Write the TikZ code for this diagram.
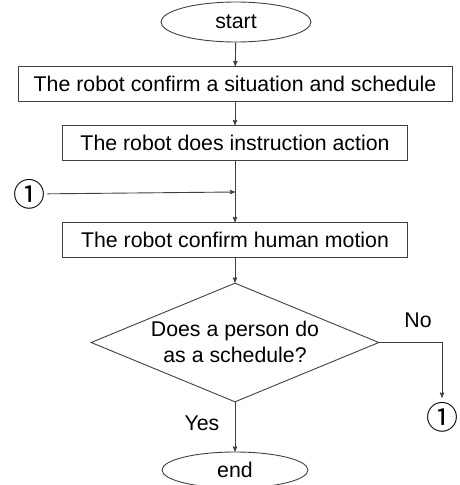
\documentclass[tikz,border=0pt]{standalone}
\usepackage{fontspec}
\setmainfont{Liberation Sans}
\newfontfamily\symfont{Noto Sans CJK JP}
\usetikzlibrary{arrows,shapes.geometric}

\begin{document}
\begin{tikzpicture}[x=1pt,y=-1pt,->,>=stealth',thick,
			line/.style={draw=black!75,line width=0.9pt},
			every node/.style={font=\fontsize{21.3}{26}\selectfont},
			term node/.style={ellipse,draw=black!75,line width=0.9pt,inner sep=0pt,minimum width=150pt,minimum height=40pt},
			work node/.style={rectangle,draw=black!75,line width=0.9pt,inner sep=0pt,minimum height=35pt},
			check node/.style={diamond,draw=black!75,line width=0.9pt,inner sep=0pt,minimum width=288pt,minimum height=119pt},
			mark node/.style={inner sep=0pt,font=\symfont\fontsize{32}{32}\selectfont}]
			\useasboundingbox (0,0) rectangle (460,485);
			\node[term node] (start) at (236,22) {start};
			\node[work node,minimum width=434pt] (sit) at (235,84) {The robot confirm a situation and schedule};
			\node[work node,minimum width=345pt] (act) at (235,143) {The robot does instruction action};
			\node[work node,minimum width=345pt] (hum) at (235,240) {The robot confirm human motion};
			\node[check node] (ask) at (235,342.5) {};
			\node[align=center] (asktxt) at (235,342) {Does a person do\\as a schedule?};
			\node[term node,minimum width=146pt,minimum height=36pt] (end) at (235,470) {end};
			\node[mark node] (in) at (29,194) {①};
			\node[mark node] (out) at (442,417) {①};
			\coordinate (join) at (235,192);
			\node (no) at (418,320) {No};
			\node (yes) at (202,423) {Yes};
			% connectors
			\path[line]
			(start) edge (sit)
			(sit) edge (act)
			(act) edge (hum)
			(hum) edge (ask)
			(ask) edge (end);
			\draw[line,shorten <=2pt] (in) -- (join);
			\draw[line,shorten >=4pt] (ask.east) -| (out.north);
\end{tikzpicture}
\end{document}
